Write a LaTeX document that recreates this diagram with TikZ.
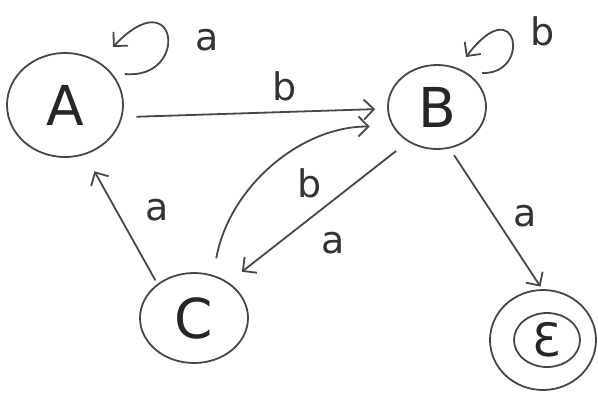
\documentclass[tikz,border=0pt]{standalone}
\usepackage{fontspec}
\setmainfont{DejaVu Sans}
\usetikzlibrary{arrows.meta,shapes.geometric}
\begin{document}
\begin{tikzpicture}[x=1pt,y=-1pt,
  line width=1.8pt,
  state/.style={ellipse, draw=black!72, line width=1.8pt, inner sep=0pt, text=black!85},
  big/.style={font=\fontsize{55}{60}\selectfont},
  lbl/.style={font=\fontsize{38}{40}\selectfont, text=black!80, inner sep=0pt},
  edge/.style={-{Straight Barb[length=10pt,width=20pt]}, draw=black!72, line width=1.8pt}]
\useasboundingbox[fill=white] (0,0) rectangle (598,394);
% states
\node[state,big,minimum width=116pt,minimum height=104pt] (A) at (65,105) {A};
\node[state,big,minimum width=98pt,minimum height=84pt] (B) at (437,107) {B};
\node[state,big,minimum width=108pt,minimum height=90pt] (C) at (194,318) {C};
\node[state,minimum width=106pt,minimum height=100pt] (E) at (543,340) {};
\node[state,font=\fontsize{46}{48}\selectfont,minimum width=66pt,minimum height=54pt] (Ei) at (547,340) {Ɛ};
% self loops
\coordinate (a1) at (125,74);
\coordinate (a2) at (113,47);
\draw[edge] (a1) .. controls (190,80) and (178,-22) .. (a2);
\coordinate (b1) at (482,73);
\coordinate (b2) at (466,57);
\draw[edge] (b1) .. controls (532,75) and (518,-12) .. (b2);
% transitions
\draw[edge, shorten <=14pt, shorten >=12pt] (A.-12) -- (B.182);
\draw[edge, shorten <=4pt, shorten >=19pt] (C.137) -- (A.-68);
\draw[edge, shorten <=17pt, shorten >=23pt] (C.66) to[bend left=40] (B.204);
\draw[edge, shorten <=15pt, shorten >=17pt] (B.-130) -- (C.46);
\draw[edge, shorten <=8pt, shorten >=3pt] (B.-73) -- (E.91);
% labels
\node[lbl] (la) at (207,40) {a};
\node[lbl] (lb) at (543,31) {b};
\node[lbl] (lab) at (285,86) {b};
\node[lbl] (lca) at (157,210) {a};
\node[lbl] (lcb) at (310,183) {b};
\node[lbl] (lbc) at (333,243) {a};
\node[lbl] (lbe) at (525,216) {a};
\end{tikzpicture}
\end{document}
